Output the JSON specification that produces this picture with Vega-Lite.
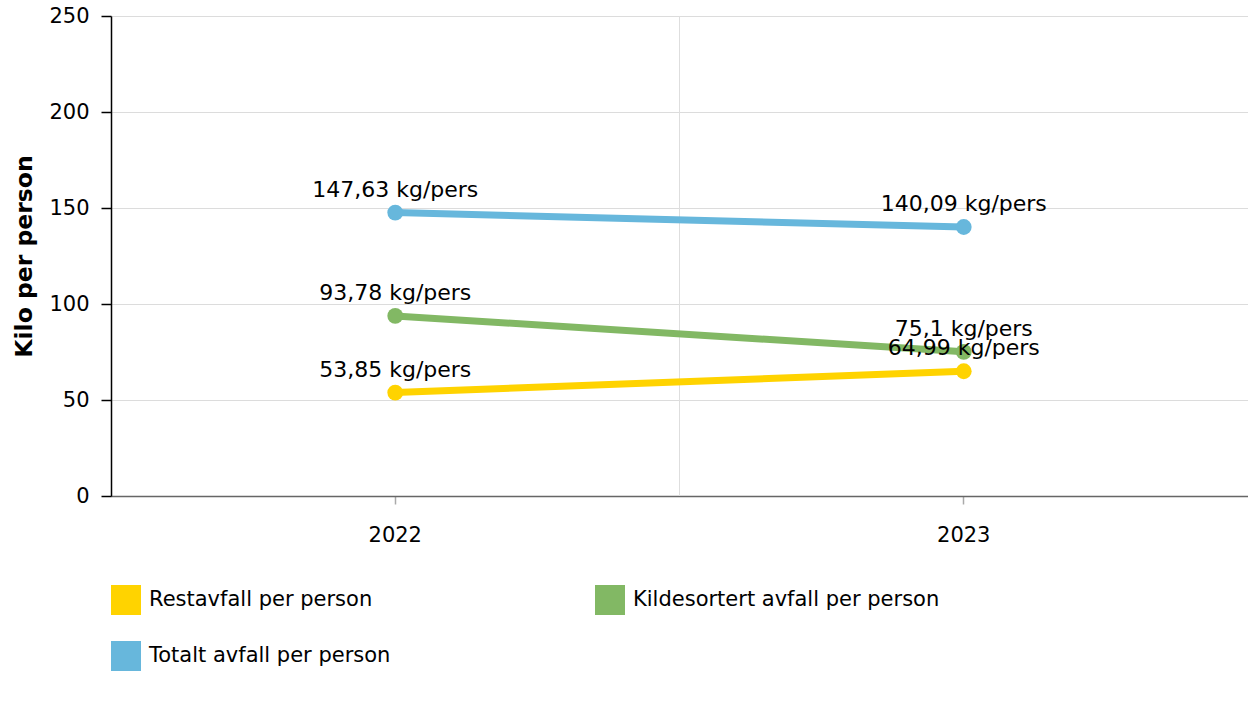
{
  "$schema": "https://vega.github.io/schema/vega-lite/v6.json",
  "width": 1137,
  "height": 480,
  "autosize": {"type": "none"},
  "padding": {"left": 111, "top": 16, "right": 0, "bottom": 210},
  "background": "white",
  "config": {
    "font": "DejaVu Sans",
    "view": {"stroke": null},
    "axis": {"labelFont": "DejaVu Sans", "labelFontSize": 21, "labelColor": "#000"}
  },
  "data": {
    "values": [
      {"year": "2022", "serie": "Restavfall per person", "value": 53.85, "label": "53,85 kg/pers"},
      {"year": "2023", "serie": "Restavfall per person", "value": 64.99, "label": "64,99 kg/pers"},
      {"year": "2022", "serie": "Kildesortert avfall per person", "value": 93.78, "label": "93,78 kg/pers"},
      {"year": "2023", "serie": "Kildesortert avfall per person", "value": 75.1, "label": "75,1 kg/pers"},
      {"year": "2022", "serie": "Totalt avfall per person", "value": 147.63, "label": "147,63 kg/pers"},
      {"year": "2023", "serie": "Totalt avfall per person", "value": 140.09, "label": "140,09 kg/pers"}
    ]
  },
  "layer": [
    {
      "data": {"values": [{"year": "2023"}]},
      "mark": {"type": "rule", "color": "#dedede", "strokeWidth": 1},
      "encoding": {
        "x": {"field": "year", "type": "ordinal", "bandPosition": 0}
      }
    },
    {
      "mark": {"type": "line", "strokeWidth": 7},
      "encoding": {
        "x": {
          "field": "year", "type": "ordinal",
          "scale": {"type": "band", "paddingInner": 0, "paddingOuter": 0},
          "axis": {
            "title": null, "grid": false, "labelAngle": 0, "labelAlign": "center",
            "domainColor": "#666", "domainWidth": 1.5,
            "tickColor": "#aaa", "tickSize": 8, "tickWidth": 1.5,
            "labelPadding": 31
          }
        },
        "y": {
          "field": "value", "type": "quantitative",
          "scale": {"domain": [0, 250], "nice": false},
          "axis": {
            "title": "Kilo per person",
            "titleFontSize": 23.5, "titleFontWeight": "bold", "titleColor": "#000",
            "titleFont": "DejaVu Sans", "titlePadding": 12,
            "values": [0, 50, 100, 150, 200, 250],
            "domainColor": "#000", "domainWidth": 1.5,
            "tickColor": "#000", "tickSize": 10, "tickWidth": 1.5,
            "labelPadding": 12,
            "gridColor": "#dcdcdc", "gridWidth": 1
          }
        },
        "stroke": {
          "field": "serie", "type": "nominal",
          "scale": {"range": ["#82B864", "#FFD300", "#67B7DC"]},
          "legend": null
        },
        "detail": {"field": "serie"}
      }
    },
    {
      "mark": {"type": "circle", "size": 250, "opacity": 1},
      "encoding": {
        "x": {"field": "year", "type": "ordinal"},
        "y": {"field": "value", "type": "quantitative"},
        "color": {
          "field": "serie", "type": "nominal",
          "scale": {
            "domain": ["Restavfall per person", "Kildesortert avfall per person", "Totalt avfall per person"],
            "range": ["#FFD300", "#82B864", "#67B7DC"]
          },
          "legend": {
            "title": null,
            "orient": "none",
            "legendX": 0,
            "legendY": 569,
            "direction": "horizontal",
            "columns": 2,
            "columnPadding": 204,
            "rowPadding": 26,
            "symbolType": "square",
            "symbolSize": 900,
            "symbolStrokeWidth": 0,
            "symbolOpacity": 1,
            "labelFontSize": 21,
            "labelFont": "DejaVu Sans",
            "labelColor": "#000",
            "labelOffset": 8,
            "labelLimit": 0,
            "padding": 0
          }
        }
      }
    },
    {
      "mark": {"type": "text", "dy": -16, "baseline": "alphabetic", "fontSize": 22, "color": "#000", "font": "DejaVu Sans"},
      "encoding": {
        "x": {"field": "year", "type": "ordinal"},
        "y": {"field": "value", "type": "quantitative"},
        "text": {"field": "label"}
      }
    }
  ]
}
